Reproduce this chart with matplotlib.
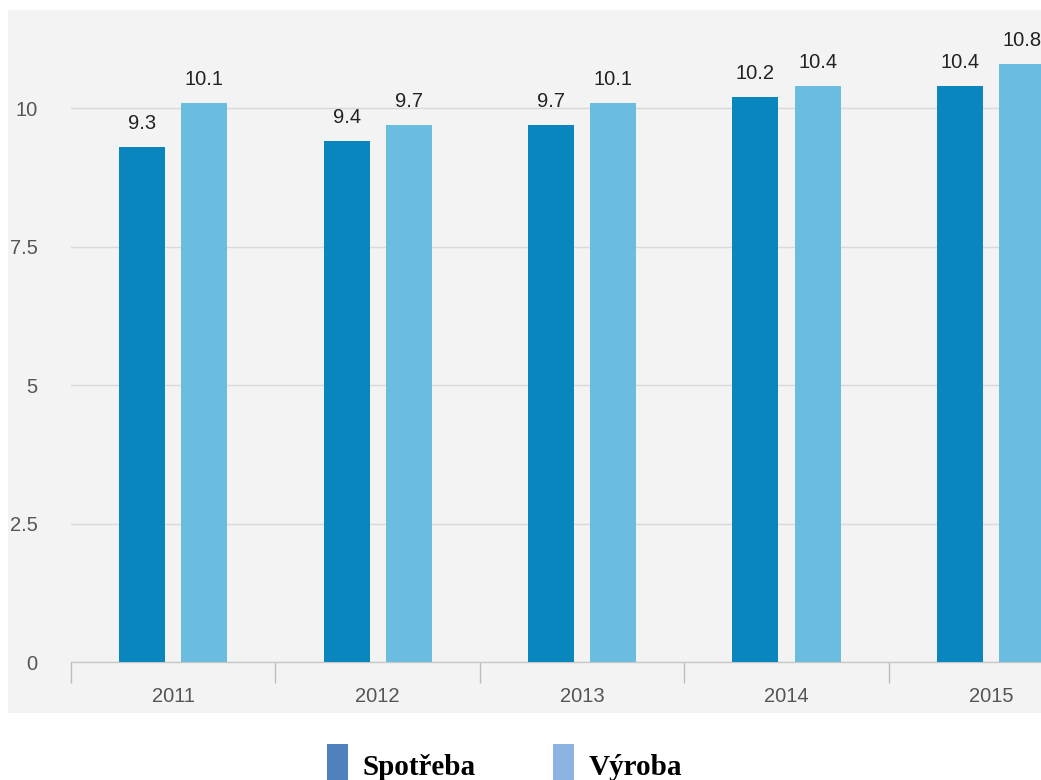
import matplotlib.pyplot as plt
from matplotlib.patches import Rectangle
from matplotlib.ticker import FixedLocator
import numpy as np

# data
years = ['2011', '2012', '2013', '2014', '2015']
spotreba = [9.3, 9.4, 9.7, 10.2, 10.4]
vyroba = [10.1, 9.7, 10.1, 10.4, 10.8]
series_names = ['Spotřeba', 'Výroba']
y_ticks = [0, 2.5, 5, 7.5, 10]
y_tick_labels = ['0', '2.5', '5', '7.5', '10']

bar_dark = '#0a86bf'
bar_light = '#6bbde0'
legend_colors = ['#4f81bd', '#8db3e2']

fig = plt.figure(figsize=(10.41, 7.8), dpi=100)
fig.patch.set_facecolor('white')

# grey panel behind the chart
fig.patches.append(Rectangle((8 / 1041, 67 / 780), 1 - 8 / 1041, 703 / 780,
                             transform=fig.transFigure, facecolor='#f3f3f3',
                             edgecolor='none', zorder=-5))

ax = fig.add_axes([71 / 1041, 118 / 780, 1 - 71 / 1041, 652 / 780])
ax.set_facecolor('none')
ax.set_zorder(2)

x = np.arange(len(years))
w = 0.225
off = 0.152
b1 = ax.bar(x - off, spotreba, w, color=bar_dark, zorder=3)
b2 = ax.bar(x + off, vyroba, w, color=bar_light, zorder=3)

for bars, vals in [(b1, spotreba), (b2, vyroba)]:
    for rect, v in zip(bars, vals):
        ax.annotate(f'{v}', (rect.get_x() + rect.get_width() / 2, v),
                    xytext=(0, 10), textcoords='offset points',
                    ha='center', va='bottom', fontsize=14.5,
                    family='Liberation Sans', color='#222222')

ax.set_xlim(-0.5, 4.245)
ax.set_ylim(0, 11.77)

ax.set_yticks(y_ticks)
ax.set_yticklabels(y_tick_labels)
ax.yaxis.grid(True, color='#d9d9d9', linewidth=1, zorder=1)
ax.set_axisbelow(True)
ax.tick_params(axis='y', length=0, pad=24, labelsize=14.5, labelcolor='#555555')

ax.set_xticks(x)
ax.set_xticklabels(years)
ax.xaxis.set_minor_locator(FixedLocator(np.arange(-0.5, 5, 1.0)))
ax.tick_params(axis='x', which='major', length=0, pad=18, labelsize=14.5,
               labelcolor='#555555')
ax.tick_params(axis='x', which='minor', length=15, width=1, color='#bdbdbd')
for lab in ax.get_xticklabels() + ax.get_yticklabels():
    lab.set_family('Liberation Sans')

for s in ['top', 'right', 'left']:
    ax.spines[s].set_visible(False)
ax.spines['bottom'].set_color('#c8c8c8')
ax.spines['bottom'].set_linewidth(1)

# legend below the chart
legend_x = [327, 553]
for name, col, lx in zip(series_names, legend_colors, legend_x):
    fig.patches.append(Rectangle((lx / 1041, 0), 21 / 1041, 36 / 780,
                                 transform=fig.transFigure, facecolor=col,
                                 edgecolor='none'))
    fig.text((lx + 36) / 1041, 5 / 780, name, fontsize=21,
             family='Liberation Serif', weight='bold', color='black',
             ha='left', va='baseline')

fig.savefig('out.png', dpi=100)
